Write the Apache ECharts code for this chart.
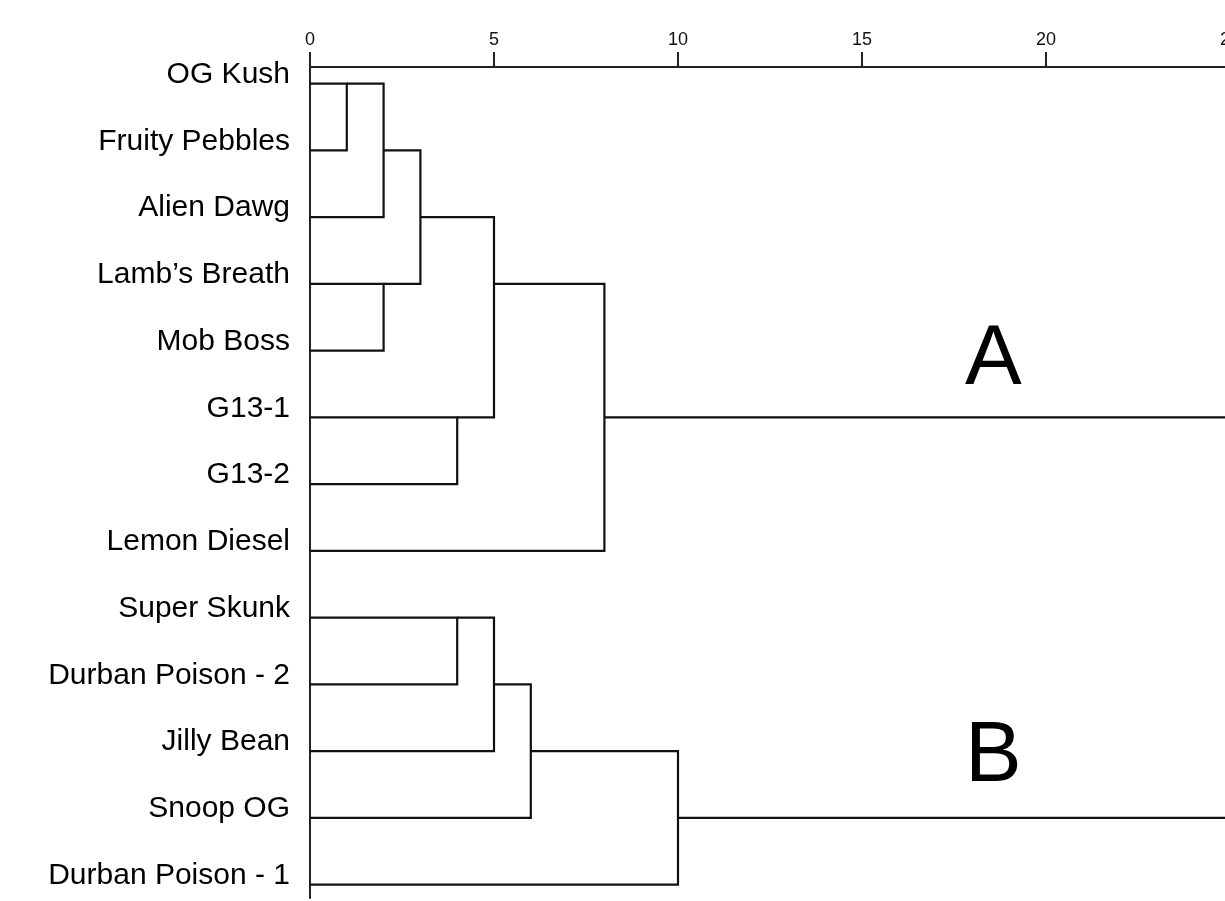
<!DOCTYPE html>
<html>
<head>
<meta charset="utf-8">
<script src="https://cdn.jsdelivr.net/npm/echarts@6/dist/echarts.min.js"></script>
<style>
html,body{margin:0;padding:0;background:#fff;}
#chart{width:1225px;height:901px;}
</style>
</head>
<body>
<div id="chart"></div>
<script>
// Leaves (top to bottom)
const leaves = ['OG Kush', 'Fruity Pebbles', 'Alien Dawg', 'Lamb\u2019s Breath', 'Mob Boss', 'G13-1', 'G13-2',
  'Lemon Diesel', 'Super Skunk', 'Durban Poison - 2', 'Jilly Bean', 'Snoop OG', 'Durban Poison - 1'];
// Merge steps: node ids 0..12 are leaves, 13.. are merges in this order
const mergeA = [0, 13, 3, 14, 5, 16, 18, 8, 20, 21, 22, 19];
const mergeB = [1, 2, 4, 15, 6, 17, 7, 9, 10, 11, 12, 23];
const mergeHeight = [1, 2, 2, 3, 4, 5, 8, 4, 5, 6, 10, 25];
// Axis ticks
const xTicks = [0, 5, 10, 15, 20, 25];
const clusterLabels = ['A', 'B'];

// Build dendrogram segments
const nodeH = leaves.map(() => 0);
const nodeY = leaves.map((_, i) => i);
const segs = [];
for (let i = 0; i < mergeA.length; i++) {
  const a = mergeA[i], b = mergeB[i], h = mergeHeight[i];
  segs.push([nodeH[a], nodeY[a], h, nodeY[b], nodeH[b]]);
  nodeH.push(h);
  nodeY.push(Math.floor((nodeY[a] + nodeY[b]) / 2));
}

const chart = echarts.init(document.getElementById('chart'));
const FONT = '"Liberation Sans", Arial, sans-serif';
chart.setOption({
  animation: false,
  backgroundColor: '#fff',
  grid: { left: 310, top: 67, width: 920, height: 831, containLabel: false, outerBoundsMode: 'none' },
  xAxis: {
    type: 'value', position: 'top', min: xTicks[0], max: xTicks[xTicks.length - 1], interval: 5,
    axisLine: { show: true, onZero: false, lineStyle: { color: '#222', width: 2 } },
    axisTick: { show: true, length: 15, lineStyle: { color: '#222', width: 2 } },
    splitLine: { show: false },
    axisLabel: { fontFamily: FONT, fontSize: 18, color: '#111', margin: 18, showMaxLabel: true, hideOverlap: false }
  },
  yAxis: {
    type: 'value', inverse: true, min: -0.25, max: 12.2,
    axisLine: { show: true, onZero: false, lineStyle: { color: '#222', width: 2 } },
    axisTick: { show: false },
    splitLine: { show: false },
    axisLabel: {
      customValues: leaves.map((_, i) => i),
      formatter: v => leaves[Math.round(v)],
      fontFamily: FONT, fontSize: 30, color: '#000', margin: 20,
      verticalAlign: 'bottom', lineHeight: 18
    }
  },
  graphic: [
    { type: 'text', left: 995 - 30, top: 360 - 42, style: { text: clusterLabels[0], font: '85px ' + FONT, fill: '#000' } },
    { type: 'text', left: 995 - 30, top: 757 - 42, style: { text: clusterLabels[1], font: '85px ' + FONT, fill: '#000' } }
  ],
  series: [{
    type: 'custom',
    data: segs,
    encode: { x: [0, 2, 4], y: [1, 3] },
    renderItem: function (params, api) {
      const hA = api.value(0), yA = api.value(1), h = api.value(2), yB = api.value(3), hB = api.value(4);
      return {
        type: 'polyline',
        shape: { points: [api.coord([hA, yA]), api.coord([h, yA]), api.coord([h, yB]), api.coord([hB, yB])] },
        style: { stroke: '#111', lineWidth: 2.2, fill: null }
      };
    }
  }]
});
</script>
</body>
</html>
